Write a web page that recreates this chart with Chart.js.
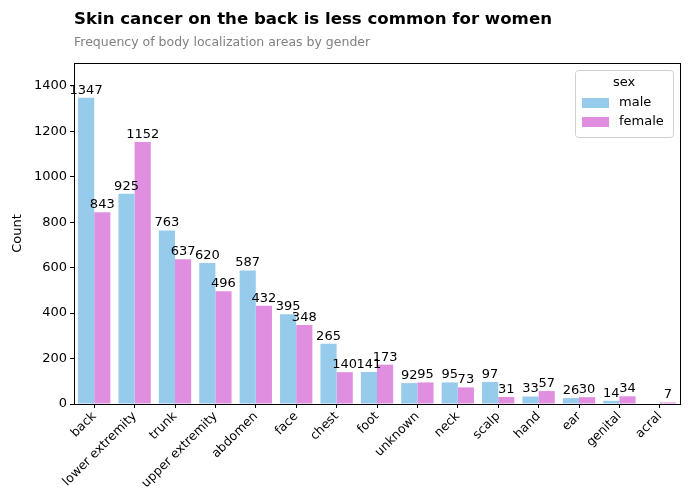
<!DOCTYPE html>
<html>
<head>
<meta charset="utf-8">
<script src="https://cdn.jsdelivr.net/npm/chart.js@4"></script>
<style>
    body{margin:0; background:#fff;}
    #wrap{width:690px; height:500px; position:relative;}
</style>
</head>
<body>
<div id="wrap"><canvas id="myChart" width="690" height="500"></canvas></div>
<script>
    var categories = ['back', 'lower extremity', 'trunk', 'upper extremity', 'abdomen', 'face', 'chest', 'foot', 'unknown', 'neck', 'scalp', 'hand', 'ear', 'genital', 'acral'];
    var maleCounts = [1347, 925, 763, 620, 587, 395, 265, 141, 92, 95, 97, 33, 26, 14, null];
    var femaleCounts = [843, 1152, 637, 496, 432, 348, 140, 173, 95, 73, 31, 57, 30, 34, 7];
    var yTicks = [0, 200, 400, 600, 800, 1000, 1200, 1400];

    var fontFam = "'DejaVu Sans', sans-serif";

    // title, subtitle, frame, bar labels and legend drawn on the canvas
    var decor = {
        id: 'decor',
        afterDatasetsDraw: function(chart){
            var ctx = chart.ctx, a = chart.chartArea;
            ctx.save();
            // bar value labels
            ctx.fillStyle = '#000';
            ctx.font = '13px ' + fontFam;
            ctx.textAlign = 'center';
            ctx.textBaseline = 'bottom';
            chart.data.datasets.forEach(function(ds, i){
                var meta = chart.getDatasetMeta(i);
                meta.data.forEach(function(bar, j){
                    if(ds.data[j] == null) return;
                    ctx.fillText(String(ds.data[j]), bar.x, bar.y - 1);
                });
            });
            // frame
            ctx.strokeStyle = '#000';
            ctx.lineWidth = 1;
            ctx.strokeRect(Math.round(a.left) + 0.5, Math.round(a.top) + 0.5, Math.round(a.right - a.left), Math.round(a.bottom - a.top));
            // legend
            var lx = a.right - 105, ly = a.top + 7, lw = 98, lh = 67;
            ctx.fillStyle = 'rgba(255,255,255,0.8)';
            ctx.strokeStyle = '#d0d0d0';
            ctx.beginPath();
            ctx.roundRect(lx + 0.5, ly + 0.5, lw, lh, 3);
            ctx.fill();
            ctx.stroke();
            ctx.fillStyle = '#000';
            ctx.textAlign = 'center';
            ctx.textBaseline = 'middle';
            ctx.fillText('sex', lx + lw / 2, ly + 13);
            ctx.textAlign = 'left';
            chart.data.datasets.forEach(function(ds, i){
                var yy = ly + 33 + i * 19;
                ctx.fillStyle = ds.backgroundColor;
                ctx.fillRect(lx + 7, yy - 5, 27, 10);
                ctx.fillStyle = '#000';
                ctx.fillText(ds.label, lx + 44, yy);
            });
            // title + subtitle
            ctx.textAlign = 'left';
            ctx.textBaseline = 'alphabetic';
            ctx.font = 'bold 16.6px ' + fontFam;
            ctx.fillText('Skin cancer on the back is less common for women', a.left, 24);
            ctx.fillStyle = '#808080';
            ctx.font = '12.5px ' + fontFam;
            ctx.fillText('Frequency of body localization areas by gender', a.left, 46);
            ctx.restore();
        }
    };

    var chart = new Chart(document.getElementById('myChart').getContext('2d'), {
        type: 'bar',
        data: {
            labels: categories,
            datasets: [
                {label: 'male', data: maleCounts, backgroundColor: '#96CBEC', categoryPercentage: 0.8, barPercentage: 1.0},
                {label: 'female', data: femaleCounts, backgroundColor: '#E08FE0', categoryPercentage: 0.8, barPercentage: 1.0}
            ]
        },
        options: {
            responsive: false,
            animation: false,
            layout: {padding: {left: 0, right: 10, top: 63, bottom: 0}},
            plugins: {
                legend: {display: false},
                tooltip: {enabled: false}
            },
            scales: {
                x: {
                    grid: {display: true, drawOnChartArea: false, offset: false, tickLength: 4, color: '#000'},
                    border: {display: false},
                    ticks: {color: '#000', font: {family: fontFam, size: 12.5}, maxRotation: 45, minRotation: 45, autoSkip: false, padding: 1},
                    afterFit: function(s){ s.height = 96; }
                },
                y: {
                    min: 0,
                    max: 1500,
                    afterBuildTicks: function(s){ s.ticks = yTicks.map(function(v){ return {value: v}; }); },
                    grid: {display: true, drawOnChartArea: false, tickLength: 4, color: '#000'},
                    border: {display: false},
                    ticks: {color: '#000', font: {family: fontFam, size: 13}, padding: 3, callback: function(v){ return String(v); }},
                    title: {display: true, text: 'Count', color: '#000', font: {family: fontFam, size: 13}, padding: {top: 10, bottom: 6}},
                    afterFit: function(s){ s.width = 74; }
                }
            }
        },
        plugins: [decor]
    });
</script>
</body>
</html>
